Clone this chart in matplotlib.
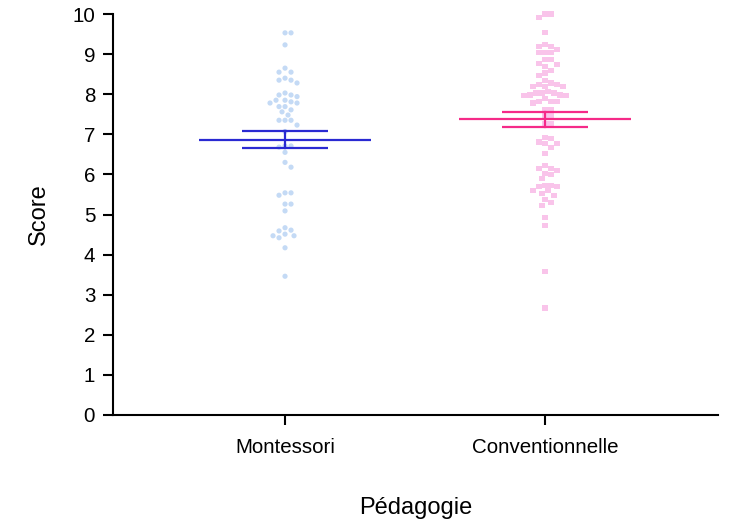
import numpy as np
import matplotlib
matplotlib.use("Agg")
import matplotlib.pyplot as plt

plt.rcParams['font.family'] = ['Liberation Sans', 'DejaVu Sans']

categories = ["Montessori", "Conventionnelle"]
montessori = [9.53, 9.53, 9.23, 8.65, 8.55, 8.55, 8.40, 8.35, 8.35, 8.28,
              8.03, 7.98, 7.98, 7.94, 7.85, 7.85, 7.81, 7.78, 7.78, 7.69,
              7.69, 7.61, 7.56, 7.48, 7.35, 7.35, 7.35, 7.23, 7.07, 6.71,
              6.71, 6.68, 6.55, 6.30, 6.18, 5.54, 5.54, 5.48, 5.26, 5.26,
              5.09, 4.67, 4.61, 4.59, 4.51, 4.47, 4.47, 4.42, 4.17, 3.46]
conventionnelle = [10.0, 10.0, 9.91, 9.53, 9.24, 9.19, 9.19, 9.11, 9.04, 9.04,
                   9.04, 8.86, 8.86, 8.77, 8.75, 8.70, 8.60, 8.53, 8.46, 8.35,
                   8.28, 8.24, 8.24, 8.19, 8.19, 8.19, 8.06, 8.03, 8.03, 8.03,
                   7.98, 7.98, 7.96, 7.96, 7.90, 7.81, 7.81, 7.81, 7.78, 7.61,
                   7.61, 7.46, 7.46, 7.27, 7.27, 6.93, 6.90, 6.81, 6.78, 6.78,
                   6.68, 6.53, 6.23, 6.14, 6.14, 6.09, 6.02, 5.99, 5.89, 5.73,
                   5.73, 5.69, 5.69, 5.59, 5.59, 5.52, 5.48, 5.37, 5.29, 5.23,
                   4.92, 4.73, 3.57, 2.67]
means = [6.87, 7.37]
sems = [0.21, 0.18]
yticks = list(range(0, 11))

point_colors = ["#c4daf5", "#f9c4ea"]
line_colors = ["#2a2ad2", "#f52a88"]
markers = ["o", "s"]

fig = plt.figure(figsize=(7.29, 5.25), dpi=100)
ax = fig.add_axes([113/729, 1-415/525, (718-113)/729, (415-14)/525])
ax.set_xlim(-0.6615, 1.665)
ax.set_ylim(0, 10)
fig.canvas.draw()

def swarm(values, xc, d_px=6.0, step_px=3.0):
    tr = ax.transData
    placed = []
    cands = [0]
    for i in range(1, 40):
        cands += [i, -i]
    for v in sorted(values, reverse=True):
        cx, cy = tr.transform((xc, v))
        for c in cands:
            px = cx + c*step_px
            if all((px-qx)**2 + (cy-qy)**2 >= d_px**2 for qx, qy in placed):
                placed.append((px, cy))
                break
    inv = tr.inverted()
    return [inv.transform(p) for p in placed]

groups = [montessori, conventionnelle]
for i, vals in enumerate(groups):
    pts = np.array(swarm(vals, i))
    ax.scatter(pts[:, 0], pts[:, 1], s=14, marker=markers[i], color=point_colors[i],
               edgecolors='none', zorder=2, clip_on=False)
    lw = 1.6
    ax.plot([i-0.33, i+0.33], [means[i]]*2, color=line_colors[i], lw=lw, zorder=3, solid_capstyle='butt')
    ax.plot([i-0.165, i+0.165], [means[i]+sems[i]]*2, color=line_colors[i], lw=lw, zorder=3, solid_capstyle='butt')
    ax.plot([i-0.165, i+0.165], [means[i]-sems[i]]*2, color=line_colors[i], lw=lw, zorder=3, solid_capstyle='butt')
    ax.plot([i, i], [means[i]-sems[i], means[i]+sems[i]], color=line_colors[i], lw=lw, zorder=3)

for s in ['top', 'right']:
    ax.spines[s].set_visible(False)
for s in ['left', 'bottom']:
    ax.spines[s].set_linewidth(1.5)
ax.set_yticks(yticks)
ax.set_xticks([0, 1])
ax.set_xticklabels(categories)
ax.tick_params(axis='both', length=7.5, width=1.5, labelsize=14.8, color='black')
ax.tick_params(axis='x', pad=9)
ax.tick_params(axis='y', pad=5.3)
ax.set_ylabel("Score", fontsize=17)
ax.set_xlabel("Pédagogie", fontsize=17)
ax.yaxis.set_label_coords(-0.1226, 0.5)
ax.xaxis.set_label_coords(0.5, -0.232)
ax.xaxis.label.set_va('center')
ax.yaxis.label.set_va('center')

fig.savefig("out.png", dpi=100)
